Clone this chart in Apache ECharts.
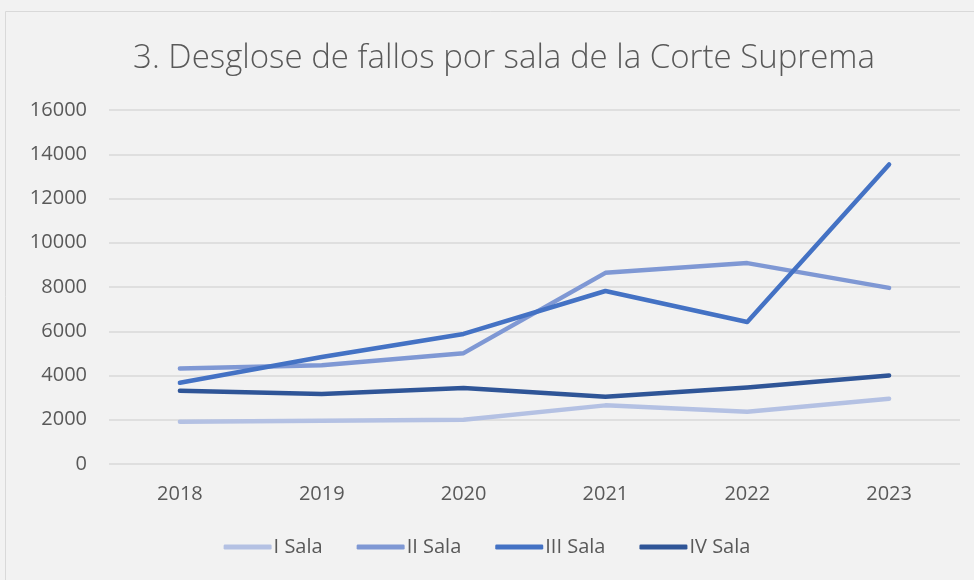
<!DOCTYPE html>
<html>
<head>
<meta charset="utf-8">
<script src="https://cdn.jsdelivr.net/npm/echarts@6/dist/echarts.min.js"></script>
<style>
  html, body { margin: 0; padding: 0; background: #f2f2f2; }
  #chart { width: 974px; height: 580px; }
</style>
</head>
<body>
<div id="chart"></div>
<script>
// años
const years = ['2018', '2019', '2020', '2021', '2022', '2023'];
// fallos por sala
const salaI = [1910, 1950, 2000, 2650, 2360, 2950];
const salaII = [4320, 4460, 5010, 8640, 9080, 7960];
const salaIII = [3670, 4840, 5880, 7820, 6420, 13540];
const salaIV = [3310, 3160, 3430, 3040, 3460, 4000];
const seriesNames = ['I Sala', 'II Sala', 'III Sala', 'IV Sala'];

const colors = ['#b4c1e3', '#7f98d4', '#4472c4', '#2f5597'];
const font = '"Open Sans", "Liberation Sans", sans-serif';

const chart = echarts.init(document.getElementById('chart'));

const makeLine = (name, data) => ({
  name,
  type: 'line',
  data,
  symbol: 'none',
  lineStyle: { width: 4.5, cap: 'round', join: 'round' },
  emphasis: { disabled: true },
});

const option = {
  backgroundColor: '#f2f2f2',
  color: colors,
  animation: false,
  graphic: [
    {
      type: 'rect',
      shape: { x: 5.5, y: 11.5, width: 980, height: 580 },
      style: { fill: 'none', stroke: '#d9d9d9', lineWidth: 1 },
      silent: true,
    },
  ],
  title: {
    text: '3. Desglose de fallos por sala de la Corte Suprema',
    left: 499,
    top: 37,
    textAlign: 'center',
    textStyle: {
      fontFamily: font,
      fontWeight: 300,
      fontSize: 33,
      color: '#595959',
    },
  },
  legend: {
    bottom: 18,
    left: 'center',
    itemWidth: 48,
    itemHeight: 5,
    itemGap: 34,
    icon: 'roundRect',
    textStyle: { fontFamily: font, fontSize: 20, color: '#595959', padding: [0, 0, 0, -3] },
    data: seriesNames,
  },
  grid: {
    left: 109,
    right: 14,
    top: 110,
    bottom: 116,
  },
  xAxis: {
    type: 'category',
    data: years,
    boundaryGap: true,
    axisLine: { show: false },
    axisTick: { show: false },
    axisLabel: { fontFamily: font, fontSize: 20, color: '#595959', margin: 20 },
  },
  yAxis: {
    type: 'value',
    min: 0,
    max: 16000,
    interval: 2000,
    axisLine: { show: false },
    axisTick: { show: false },
    axisLabel: {
      fontFamily: font,
      fontSize: 20,
      color: '#595959',
      margin: 22,
      formatter: (v) => String(v),
    },
    splitLine: { lineStyle: { color: '#d9d9d9', width: 1.5 } },
  },
  series: [
    makeLine(seriesNames[0], salaI),
    makeLine(seriesNames[1], salaII),
    makeLine(seriesNames[2], salaIII),
    makeLine(seriesNames[3], salaIV),
  ],
};

chart.setOption(option);
</script>
</body>
</html>
